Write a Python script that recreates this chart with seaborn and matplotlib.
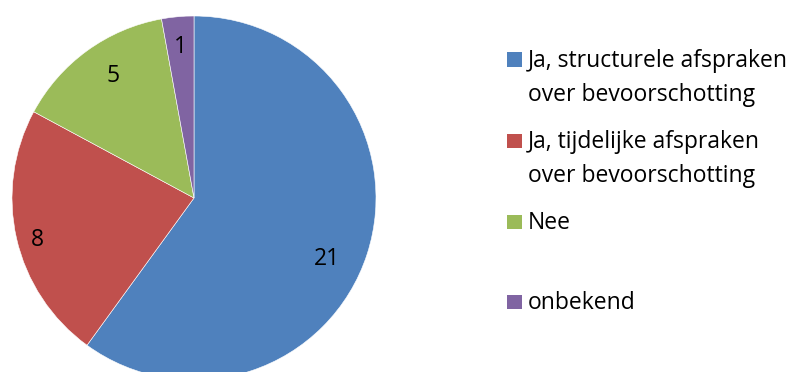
import matplotlib
matplotlib.use("Agg")
import matplotlib.pyplot as plt
import seaborn as sns
import numpy as np
from matplotlib.patches import Rectangle

sns.set_theme(style="white")
plt.rcParams["font.family"] = ["Open Sans", "DejaVu Sans"]

categories = [
    ["Ja, structurele afspraken", "over bevoorschotting"],
    ["Ja, tijdelijke afspraken", "over bevoorschotting"],
    ["Nee"],
    ["onbekend"],
]
values = [21, 8, 5, 1]
colors = ["#4F81BD", "#C0504D", "#9BBB59", "#8064A2"]

W, H = 794, 372
fig = plt.figure(figsize=(W / 100, H / 100), dpi=100)
fig.patch.set_facecolor("white")

# pie area: centre (194, 198) px, radius 182 px
cx, cy, R = 194, 198, 182
ax = fig.add_axes([(cx - R) / W, (H - cy - R) / H, 2 * R / W, 2 * R / H])
wedges, _ = ax.pie(
    values,
    colors=colors,
    startangle=90,
    counterclock=False,
    radius=1,
    wedgeprops=dict(edgecolor="white", linewidth=0.4),
)
ax.set_xlim(-1, 1)
ax.set_ylim(-1, 1)
ax.set_aspect("equal")
ax.axis("off")

FS = 16.5

# value labels inside each wedge (radius fraction, angle shift in degrees)
label_place = [(0.80, -5.6), (0.885, 1.1), (0.82, -3.0), (0.85, 0.0)]
for w, v, (r, shift) in zip(wedges, values, label_place):
    mid = np.deg2rad((w.theta1 + w.theta2) / 2 + shift)
    ax.text(r * np.cos(mid), r * np.sin(mid), str(v), ha="center", va="center_baseline",
            fontsize=FS, color="black")

# legend drawn as squares and text
def fx(px):
    return px / W

def fy(py):
    return 1 - py / H

baselines = [66.7, 148.3, 229.3, 309.3]
line_step = 34
sq = 14.5
for lines, col, b in zip(categories, colors, baselines):
    fig.patches.append(Rectangle((fx(507), fy(b)), sq / W, sq / H, transform=fig.transFigure,
                                 facecolor=col, edgecolor="none"))
    for k, line in enumerate(lines):
        fig.text(fx(528), fy(b + k * line_step), line, ha="left", va="baseline",
                 fontsize=FS, color="black")

fig.savefig("out.png", dpi=100, facecolor="white")
